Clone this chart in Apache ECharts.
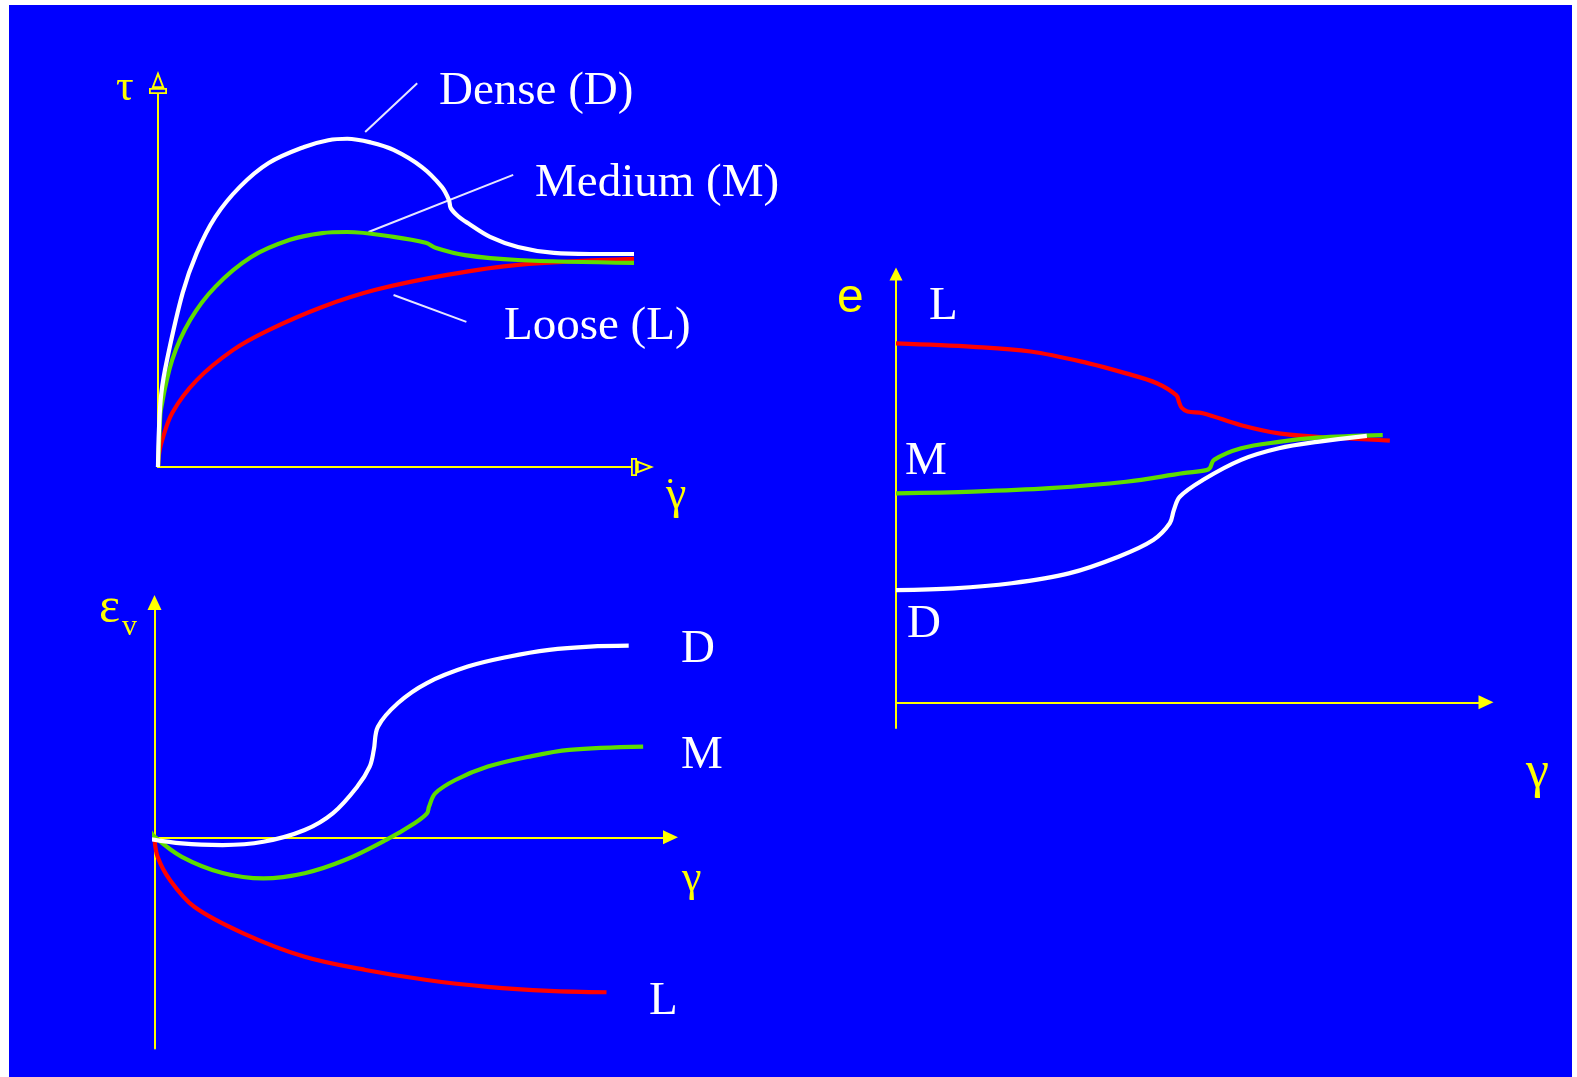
<!DOCTYPE html>
<html>
<head>
<meta charset="utf-8">
<script src="https://cdn.jsdelivr.net/npm/echarts@6/dist/echarts.min.js"></script>
<style>
  html, body { margin: 0; padding: 0; background: #ffffff; width: 1577px; height: 1077px; overflow: hidden; }
  #chart { position: absolute; left: 9px; top: 5px; width: 1563px; height: 1072px; }
</style>
</head>
<body>
<div id="chart"></div>
<script>
// ---- Shear stress τ vs shear strain γ (arbitrary units) ----
const tauDense = [[0,0],[0.02,0.99],[0.07,1.98],[0.19,2.87],[0.52,4.66],[0.82,5.74],[1.21,6.70],[1.73,7.51],[2.34,8.15],[3.09,8.58],[3.60,8.76],[4.00,8.80],[4.50,8.70],[4.98,8.50],[5.58,8.04],[6.00,7.51],[6.15,7.16],[6.19,6.94],[6.34,6.73],[6.55,6.54],[7.02,6.17],[7.61,5.90],[8.37,5.74],[9.13,5.71],[10.11,5.71]];
const tauMedium = [[0,0],[0.04,1.13],[0.06,1.53],[0.30,2.87],[0.68,3.94],[1.21,4.83],[1.97,5.63],[2.79,6.09],[3.47,6.27],[4.00,6.30],[4.98,6.17],[5.66,6.01],[5.88,5.87],[6.49,5.68],[7.61,5.55],[10.11,5.47]];
const tauLoose = [[0,0],[0.02,0.32],[0.07,0.64],[0.30,1.45],[0.82,2.33],[1.59,3.14],[2.34,3.67],[3.47,4.29],[4.60,4.75],[6.11,5.15],[7.61,5.42],[10.11,5.58]];
// pointer lines from the curve names to the curves
const pointerDense = [[4.38,8.98],[5.48,10.29]];
const pointerMedium = [[4.45,6.30],[7.51,7.83]];
const pointerLoose = [[4.98,4.61],[6.52,3.89]];

// ---- Volumetric strain εv vs γ ----
const epsDense = [[-0.18,-0.04],[0.53,-0.26],[1.32,-0.33],[2.11,-0.19],[2.91,0.31],[3.46,1.03],[3.93,2.16],[4.17,3.01],[4.25,3.72],[4.33,4.71],[4.72,5.72],[5.28,6.57],[6.07,7.27],[6.86,7.69],[7.65,7.98],[8.44,8.12],[9.19,8.16]];
const epsMedium = [[-0.14,0.45],[0.00,0.03],[0.53,-0.83],[1.32,-1.52],[2.11,-1.75],[2.91,-1.53],[3.69,-0.97],[4.49,-0.11],[5.04,0.60],[5.28,1.02],[5.32,1.30],[5.44,1.87],[5.83,2.44],[6.46,3.01],[7.25,3.43],[8.04,3.72],[9.47,3.86]];
const epsLoose = [[0.00,-0.04],[0.06,-0.83],[0.30,-1.82],[0.77,-2.96],[1.72,-4.09],[2.91,-5.09],[4.09,-5.65],[5.28,-6.08],[6.46,-6.37],[7.65,-6.54],[8.76,-6.60]];

// ---- Void ratio e vs γ ----
const voidLoose = [[0,8.38],[1.31,8.30],[2.28,8.19],[3.25,7.92],[3.90,7.68],[4.42,7.45],[4.75,7.17],[4.80,7.00],[4.84,6.88],[4.94,6.79],[5.20,6.75],[5.85,6.47],[6.49,6.28],[7.14,6.20],[8.37,6.11]];
const voidMedium = [[0,4.88],[1.31,4.92],[2.60,5.00],[3.90,5.15],[4.87,5.35],[5.26,5.42],[5.32,5.47],[5.39,5.66],[5.85,5.93],[6.49,6.08],[7.14,6.18],[8.25,6.24]];
const voidDense = [[0,2.62],[0.98,2.66],[1.96,2.78],[2.93,3.01],[3.77,3.40],[4.36,3.79],[4.64,4.18],[4.71,4.49],[4.81,4.80],[5.20,5.19],[5.85,5.66],[6.49,5.93],[7.14,6.08],[7.98,6.22]];

// ---- styling ----
const OX = 9, OY = 5;               // chart box offset inside the page
const BLUE = '#0000ff', YELLOW = '#ffff00', WHITE = '#ffffff', RED = '#ff0000', GREEN = '#5edc00';
const SERIF = '"Liberation Serif", "Times New Roman", serif';
const SANS = '"Liberation Sans", Arial, sans-serif';

// hollow arrow head: triangle sitting on a small bar, outlines only (holes cut by winding)
const hollowArrow = 'path://M9 0 L15.5 17 L18 17 L18 23 L0 23 L0 17 L2.5 17 Z M9 5.5 L5.2 15.3 L12.8 15.3 Z M1.8 18.8 L1.8 21.2 L16.2 21.2 L16.2 18.8 Z';

function gridBox(l, t, r, b) {
  return { left: l - OX, top: t - OY, width: r - l, height: b - t, containLabel: false, show: false };
}
function axisLine(symbol, size, offset) {
  return {
    show: true, onZero: true,
    symbol: ['none', symbol], symbolSize: size, symbolOffset: [0, offset],
    lineStyle: { color: YELLOW, width: 2 }
  };
}
function valueAxis(gridIndex, min, max, line) {
  return {
    type: 'value', gridIndex, min, max,
    axisLine: line,
    axisTick: { show: false }, axisLabel: { show: false }, splitLine: { show: false }
  };
}
function curve(data, color, idx) {
  return {
    type: 'line', data, xAxisIndex: idx, yAxisIndex: idx,
    symbol: 'none', smooth: 0.35, clip: false, silent: true, z: 3,
    lineStyle: { color, width: 4.2 }
  };
}
function pointer(data) {
  return {
    type: 'line', data, xAxisIndex: 0, yAxisIndex: 0,
    symbol: 'none', clip: false, silent: true, z: 2,
    lineStyle: { color: 'rgba(255,255,255,0.9)', width: 2 }
  };
}
function text(str, x, y, font, color) {
  return {
    type: 'text', x: x - OX, y: y - OY, silent: true, z: 10,
    style: { text: str, font, fill: color, align: 'left', verticalAlign: 'middle', textAlign: 'left', textVerticalAlign: 'middle' }
  };
}

const chart = echarts.init(document.getElementById('chart'), null, { renderer: 'canvas' });

const NAME_FONT = '47px ' + SERIF;

chart.setOption({
  animation: false,
  backgroundColor: BLUE,
  grid: [
    gridBox(158, 94, 631, 467),           // τ – γ
    gridBox(154.5, 602.5, 670.5, 1048.6), // εv – γ
    gridBox(896, 274, 1486, 728)          // e – γ
  ],
  xAxis: [
    valueAxis(0, 0, 10, axisLine(hollowArrow, [18, 23], 11.5)),
    valueAxis(1, 0, 10, axisLine('triangle', [14, 15], 0)),
    valueAxis(2, 0, 10, axisLine('triangle', [14, 15], 0))
  ],
  yAxis: [
    valueAxis(0, 0, 10, axisLine(hollowArrow, [18, 23], 11.5)),
    valueAxis(1, -9, 10, axisLine('triangle', [14, 15], 0)),
    valueAxis(2, -0.6, 10, axisLine('triangle', [13, 13], 0))
  ],
  series: [
    pointer(pointerDense), pointer(pointerMedium), pointer(pointerLoose),
    curve(tauLoose, RED, 0), curve(tauMedium, GREEN, 0), curve(tauDense, WHITE, 0),
    curve(epsLoose, RED, 1), curve(epsMedium, GREEN, 1), curve(epsDense, WHITE, 1),
    curve(voidLoose, RED, 2), curve(voidMedium, GREEN, 2), curve(voidDense, WHITE, 2)
  ],
  graphic: [
    // axis names
    text('τ', 116, 88, '44px ' + SERIF, YELLOW),
    text('γ', 666, 496, '46px ' + SERIF, YELLOW),
    text('.', 666, 474, '34px ' + SERIF, YELLOW),
    text('ε', 99, 609, '50px ' + SERIF, YELLOW),
    text('v', 122, 627, '30px ' + SERIF, YELLOW),
    text('γ', 682, 879, '44px ' + SERIF, YELLOW),
    text('e', 837, 299, '48px ' + SANS, YELLOW),
    text('γ', 1526, 773, '52px ' + SERIF, YELLOW),
    // curve names
    text('Dense (D)', 439, 92, NAME_FONT, WHITE),
    text('Medium (M)', 535, 184, NAME_FONT, WHITE),
    text('Loose (L)', 504, 327, NAME_FONT, WHITE),
    text('D', 681, 650, NAME_FONT, WHITE),
    text('M', 681, 756, NAME_FONT, WHITE),
    text('L', 649, 1002, NAME_FONT, WHITE),
    text('L', 929, 307, NAME_FONT, WHITE),
    text('M', 905, 462, NAME_FONT, WHITE),
    text('D', 907, 625, NAME_FONT, WHITE)
  ]
});
</script>
</body>
</html>
